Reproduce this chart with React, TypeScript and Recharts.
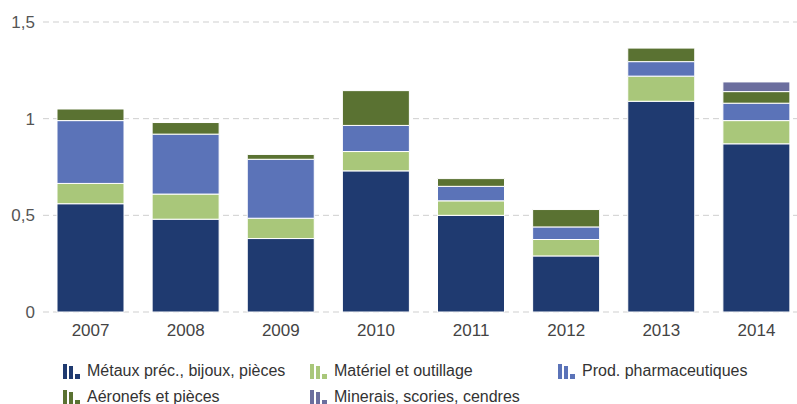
import { BarChart, Bar, XAxis, YAxis, CartesianGrid } from 'recharts';

const years = ['2007', '2008', '2009', '2010', '2011', '2012', '2013', '2014'];
const metaux = [0.56, 0.48, 0.38, 0.73, 0.5, 0.29, 1.09, 0.87];
const materiel = [0.105, 0.13, 0.105, 0.1, 0.075, 0.085, 0.13, 0.12];
const pharma = [0.325, 0.31, 0.305, 0.135, 0.075, 0.065, 0.075, 0.09];
const aeronefs = [0.06, 0.06, 0.025, 0.18, 0.04, 0.09, 0.07, 0.06];
const minerais = [0, 0, 0, 0, 0, 0, 0, 0.05];
const yTicks = [0, 0.5, 1, 1.5];

const series = [
  { key: 'metaux', name: 'Métaux préc., bijoux, pièces', color: '#1F3A70', values: metaux },
  { key: 'materiel', name: 'Matériel et outillage', color: '#A9C77A', values: materiel },
  { key: 'pharma', name: 'Prod. pharmaceutiques', color: '#5B73B8', values: pharma },
  { key: 'aeronefs', name: 'Aéronefs et pièces', color: '#5A7232', values: aeronefs },
  { key: 'minerais', name: 'Minerais, scories, cendres', color: '#6B6E9E', values: minerais },
];

const data = years.map((year, i) => {
  const row: Record<string, string | number> = { year };
  series.forEach((s) => {
    row[s.key] = s.values[i];
  });
  return row;
});

const fmt = (v: number) => String(v).replace('.', ',');

// legend placement, row / column as in the original
const legendPos = [
  { left: 63, top: 362 },
  { left: 310, top: 362 },
  { left: 558, top: 362 },
  { left: 63, top: 388 },
  { left: 310, top: 388 },
];

function Icon({ color }: { color: string }) {
  return (
    <svg width={18} height={16} style={{ display: 'block' }}>
      <rect x={0} y={1} width={4} height={15} fill={color} />
      <rect x={6} y={3} width={4} height={13} fill={color} />
      <rect x={12} y={11} width={5} height={5} fill={color} />
    </svg>
  );
}

export default function App() {
  return (
    <div
      style={{
        position: 'absolute',
        left: 0,
        top: 0,
        width: 797,
        height: 404,
        overflow: 'hidden',
        background: '#fff',
        fontFamily: '"Liberation Sans", Arial, sans-serif',
      }}
    >
      <BarChart
        width={804}
        height={340}
        data={data}
        margin={{ top: 22, right: 0, bottom: 0, left: 0 }}
        barCategoryGap={14}
      >
        <CartesianGrid vertical={false} stroke="#CFCFCF" strokeDasharray="6 4" />
        <XAxis
          dataKey="year"
          height={28}
          axisLine={false}
          tickLine={false}
          tickMargin={6}
          tick={{ fontSize: 17, fill: '#444' }}
        />
        <YAxis
          width={43}
          domain={[0, 1.5]}
          ticks={yTicks}
          tickFormatter={fmt}
          axisLine={false}
          tickLine={false}
          tick={{ fontSize: 17, fill: '#555' }}
        />
        {series.map((s) => (
          <Bar
            key={s.key}
            dataKey={s.key}
            name={s.name}
            stackId="a"
            fill={s.color}
            stroke="#fff"
            strokeWidth={1}
            isAnimationActive={false}
          />
        ))}
      </BarChart>
      {series.map((s, i) => (
        <div
          key={s.key}
          style={{
            position: 'absolute',
            left: legendPos[i].left,
            top: legendPos[i].top,
            display: 'flex',
            alignItems: 'center',
            gap: 6,
            fontSize: 16,
            color: '#333',
            whiteSpace: 'nowrap',
            lineHeight: '18px',
          }}
        >
          <Icon color={s.color} />
          <span>{s.name}</span>
        </div>
      ))}
    </div>
  );
}
